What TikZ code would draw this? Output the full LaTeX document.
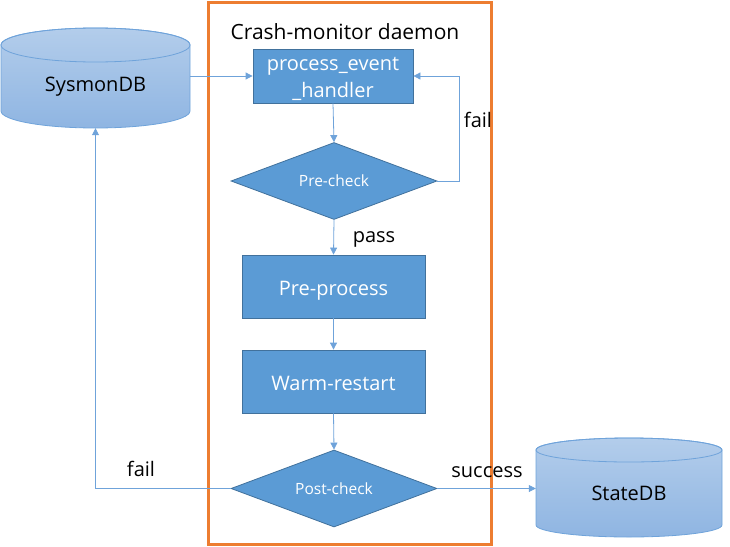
\documentclass[tikz,border=0pt]{standalone}
\usepackage{fontspec}
\setmainfont{Open Sans}
\usetikzlibrary{shapes.geometric,arrows.meta}
\definecolor{boxfill}{HTML}{5B9BD5}
\definecolor{boxedge}{HTML}{41719C}
\definecolor{linec}{HTML}{6FA3DA}
\definecolor{framec}{HTML}{ED7D31}
\definecolor{cyltop}{HTML}{B3CDEB}
\definecolor{cylbot}{HTML}{8FB5E2}
\definecolor{cyledge}{HTML}{6FA3DA}
\begin{document}
\begin{tikzpicture}[x=1pt,y=-1pt,
  stepbox/.style={draw=boxedge,fill=boxfill,text=white,line width=0.8pt,inner sep=0pt,font=\fontsize{20}{27}\selectfont,align=center},
  onebox/.style={stepbox,text height=18pt,text depth=0pt},
  decide/.style={diamond,aspect=2.67,draw=boxedge,fill=boxfill,text=white,line width=0.8pt,inner sep=0pt,font=\fontsize{15.5}{17}\selectfont},
  conn/.style={draw=linec,line width=0.8pt,-{Triangle[length=7pt,width=7pt]}},
  lbl/.style={font=\fontsize{20}{21}\selectfont,text=black},
  cyl/.style={draw=cyledge,line width=0.8pt,top color=cyltop,bottom color=cylbot}]
\useasboundingbox (0,0) rectangle (730,546);
% frame
\draw[framec,line width=3pt] (208,2) rectangle (491,544);
\node[lbl,font=\fontsize{21}{22}\selectfont] (title) at (345,32) {Crash-monitor daemon};
% cylinders
\draw[cyl] (1,45) -- (1,111) arc[start angle=180,end angle=360,x radius=94.5,y radius=-17] -- (190,45) arc[start angle=0,end angle=180,x radius=94.5,y radius=-17] -- cycle;
\draw[draw=cyledge,line width=0.8pt] (95.5,45) ellipse[x radius=94.5,y radius=17];
\node[lbl,inner sep=0pt,minimum width=189pt,minimum height=83pt] (sysmon) at (95.5,86.5) {SysmonDB};
\draw[cyl] (536,450) -- (536,525) arc[start angle=180,end angle=360,x radius=93,y radius=-12] -- (722,450) arc[start angle=0,end angle=180,x radius=93,y radius=-12] -- cycle;
\draw[draw=cyledge,line width=0.8pt] (629,450) ellipse[x radius=93,y radius=12];
\node[lbl,inner sep=0pt,minimum width=186pt,minimum height=87pt] (state) at (629,493.5) {StateDB};
% steps
\node[stepbox,minimum width=160pt,minimum height=54pt] (proc) at (333,76) {\rule{0pt}{20pt}process\_event\\\_handler};
\node[decide,minimum width=206pt,minimum height=77pt] (pre) at (334,181) {Pre-check};
\node[onebox,minimum width=183pt,minimum height=63pt] (pp) at (333.5,286.5) {Pre-process};
\node[onebox,minimum width=183pt,minimum height=63pt] (wr) at (333.5,381.5) {Warm-restart};
\node[decide,minimum width=206pt,minimum height=77pt] (post) at (334,488.5) {Post-check};
% connectors
\draw[conn] (sysmon.east |- proc.west) -- (proc.west);
\draw[conn] (proc.south) -- (pre.north);
\draw[conn] (pre.east) -- (459,181) |- (proc.east);
\draw[conn] (pre.south) -- (pp.north);
\draw[conn] (pp.south) -- (wr.north);
\draw[conn] (wr.south) -- (post.north);
\draw[conn] (post.east) -- (state.west |- post.east);
\draw[conn] (post.west) -| (sysmon.south);
% labels
\node[lbl] (lfail1) at (478,120) {fail};
\node[lbl] (lpass) at (374,239) {pass};
\node[lbl] (lsucc) at (487,472) {success};
\node[lbl] (lfail2) at (141,469) {fail};
\end{tikzpicture}
\end{document}
